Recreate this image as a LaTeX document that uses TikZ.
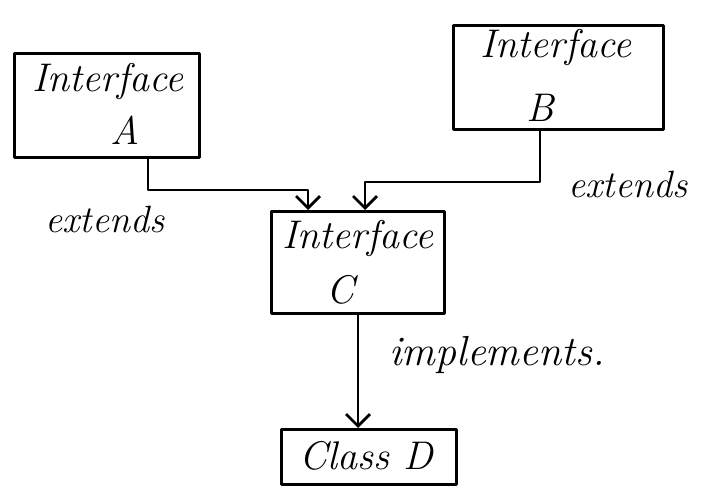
\documentclass[tikz,border=0pt]{standalone}
\usetikzlibrary{arrows.meta}
\begin{document}
\begin{tikzpicture}[x=1pt,y=-1pt,
  box/.style={draw,line width=2.8pt,inner sep=0pt,anchor=north west},
  hand/.style={font=\fontsize{40}{44}\selectfont\itshape},
  lbl/.style={font=\fontsize{38}{42}\selectfont\itshape},
  link/.style={line width=2.8pt,-{Straight Barb[length=12pt,width=24pt,line width=2.8pt]}},
  line join=round]
  \useasboundingbox (0,0) rectangle (704,495);
  % boxes
  \node[box,minimum width=185pt,minimum height=104pt] (A) at (13,52) {};
  \node[box,minimum width=210pt,minimum height=104pt] (B) at (452,24) {};
  \node[box,minimum width=173pt,minimum height=102pt] (C) at (270,210) {};
  \node[box,minimum width=175pt,minimum height=55pt] (D) at (280,428) {};
  % box texts
  \node[hand] (tA1) at (108,82) {Interface};
  \node[hand] (tA2) at (125,130) {A};
  \node[hand] (tB1) at (556,48) {Interface};
  \node[hand] (tB2) at (540,108) {B};
  \node[hand] (tC1) at (358,238) {Interface};
  \node[hand] (tC2) at (340,290) {C};
  \node[hand] (tD) at (366,456) {Class D};
  % connector bends
  \coordinate (a0) at (148,156);
  \coordinate (a1) at (148,190);
  \coordinate (a2) at (308,190);
  \coordinate (a3) at (308,210);
  \coordinate (b0) at (540,128);
  \coordinate (b1) at (540,182);
  \coordinate (b2) at (365,182);
  \coordinate (b3) at (365,210);
  \coordinate (c0) at (358,312);
  \coordinate (c1) at (358,428);
  \draw[link] (a0) -- (a1) -- (a2) -- (a3);
  \draw[link] (b0) -- (b1) -- (b2) -- (b3);
  \draw[link] (c0) -- (c1);
  % relation labels
  \node[lbl] (e1) at (105,220) {extends};
  \node[lbl] (e2) at (628,185) {extends};
  \node[font=\fontsize{42}{46}\selectfont\itshape] (im) at (497,355) {implements.};
\end{tikzpicture}
\end{document}
